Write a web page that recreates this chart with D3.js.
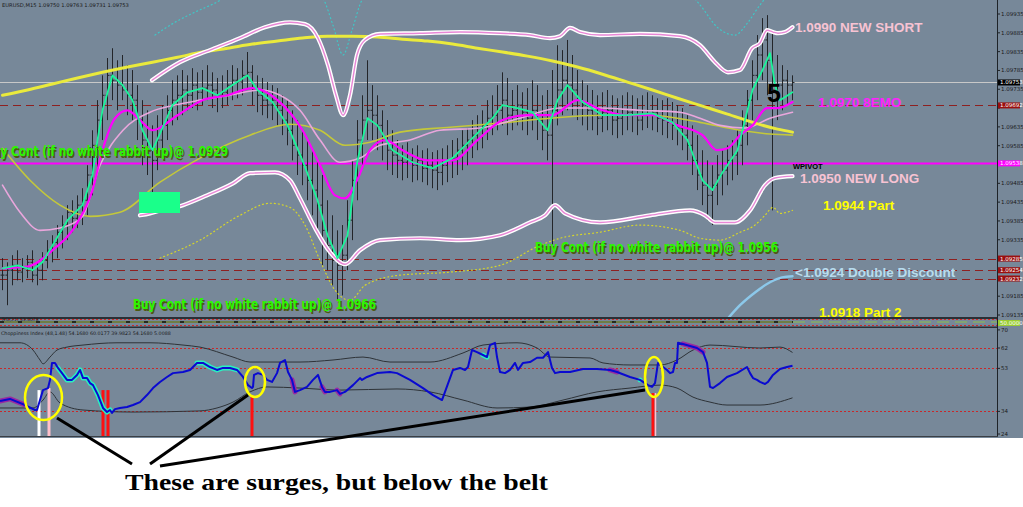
<!DOCTYPE html>
<html><head><meta charset="utf-8">
<script src="https://cdn.jsdelivr.net/npm/d3@7"></script>
<style>body{margin:0;background:#fff}svg{display:block}</style>
</head><body><svg id="c" width="1023" height="507"></svg>
<script>
// ---------- DATA ----------
const symbolHeader = "EURUSD,M15  1.09750 1.09763 1.09731 1.09753";
const chopTitle = "Choppiness Index (48,1.48) 54.1680 60.0177 39.9823 54.1680 5.0088";
const priceTicks = [1.09935,1.09885,1.09835,1.09785,1.09735,1.09685,1.09635,1.09585,1.09535,1.09485,1.09435,1.09385,1.09335,1.09285,1.09235,1.09185,1.09135];
const chopTicks = [70,62,53,34,24];
const chopLevels = [62,53,34];

const high = [
1.09286,1.09275,1.09294,1.09307,1.09286,1.09294,1.09307,1.09275,1.09302,1.09334,
1.09347,1.09374,1.09400,1.09427,1.09440,1.09453,1.09472,1.09533,1.09626,1.09706,
1.09772,1.09818,1.09844,1.09812,1.09826,1.09799,1.09786,1.09746,1.09706,1.09679,
1.09639,1.09666,1.09693,1.09719,1.09759,1.09772,1.09786,1.09772,1.09791,1.09780,
1.09786,1.09799,1.09780,1.09765,1.09772,1.09786,1.09799,1.09791,1.09812,1.09834,
1.09799,1.09772,1.09765,1.09754,1.09746,1.09738,1.09719,1.09706,1.09679,1.09653,
1.09626,1.09600,1.09573,1.09546,1.09507,1.09440,1.09400,1.09360,1.09374,1.09440,
1.09546,1.09653,1.09719,1.09812,1.09746,1.09719,1.09679,1.09653,1.09626,1.09600,
1.09586,1.09594,1.09578,1.09586,1.09573,1.09578,1.09568,1.09573,1.09578,1.09586,
1.09600,1.09605,1.09626,1.09632,1.09653,1.09666,1.09679,1.09706,1.09719,1.09746,
1.09780,1.09765,1.09733,1.09746,1.09727,1.09738,1.09759,1.09746,1.09719,1.09733,
1.09786,1.09852,1.09839,1.09866,1.09826,1.09786,1.09759,1.09746,1.09733,1.09719,
1.09727,1.09733,1.09719,1.09711,1.09719,1.09727,1.09719,1.09711,1.09719,1.09727,
1.09719,1.09711,1.09706,1.09711,1.09701,1.09693,1.09685,1.09666,1.09639,1.09613,
1.09573,1.09546,1.09533,1.09560,1.09573,1.09586,1.09600,1.09626,1.09679,1.09733,
1.09812,1.09879,1.09924,1.09932,1.09892,1.09826,1.09799,1.09786,1.09772];
const low = [
1.09201,1.09161,1.09214,1.09227,1.09222,1.09233,1.09222,1.09214,1.09227,1.09259,
1.09275,1.09286,1.09312,1.09334,1.09355,1.09366,1.09374,1.09400,1.09453,1.09520,
1.09600,1.09653,1.09706,1.09679,1.09706,1.09666,1.09653,1.09600,1.09533,1.09507,
1.09413,1.09520,1.09560,1.09600,1.09639,1.09653,1.09666,1.09679,1.09685,1.09679,
1.09693,1.09706,1.09685,1.09674,1.09685,1.09693,1.09706,1.09711,1.09719,1.09733,
1.09693,1.09674,1.09666,1.09658,1.09653,1.09639,1.09613,1.09586,1.09546,1.09507,
1.09480,1.09440,1.09400,1.09347,1.09267,1.09254,1.09214,1.09174,1.09187,1.09254,
1.09334,1.09440,1.09533,1.09600,1.09600,1.09573,1.09546,1.09520,1.09507,1.09499,
1.09493,1.09499,1.09488,1.09493,1.09488,1.09480,1.09472,1.09467,1.09480,1.09488,
1.09499,1.09507,1.09520,1.09533,1.09552,1.09573,1.09578,1.09600,1.09613,1.09626,
1.09639,1.09613,1.09626,1.09639,1.09626,1.09613,1.09626,1.09600,1.09573,1.09546,
1.09320,1.09639,1.09666,1.09679,1.09666,1.09653,1.09639,1.09626,1.09626,1.09613,
1.09621,1.09626,1.09613,1.09605,1.09613,1.09626,1.09621,1.09613,1.09626,1.09632,
1.09626,1.09621,1.09613,1.09605,1.09600,1.09586,1.09573,1.09546,1.09507,1.09467,
1.09427,1.09387,1.09374,1.09427,1.09453,1.09480,1.09493,1.09507,1.09533,1.09586,
1.09653,1.09706,1.09759,1.09719,1.09413,1.09653,1.09679,1.09693,1.09706];
const close = [
1.09241,1.09254,1.09267,1.09249,1.09259,1.09275,1.09241,1.09254,1.09280,1.09307,
1.09328,1.09355,1.09374,1.09408,1.09392,1.09427,1.09440,1.09507,1.09586,1.09653,
1.09719,1.09772,1.09759,1.09746,1.09733,1.09719,1.09706,1.09653,1.09600,1.09573,
1.09546,1.09600,1.09639,1.09679,1.09706,1.09719,1.09733,1.09719,1.09746,1.09727,
1.09738,1.09746,1.09733,1.09719,1.09727,1.09746,1.09759,1.09754,1.09772,1.09780,
1.09733,1.09719,1.09706,1.09693,1.09706,1.09679,1.09653,1.09626,1.09586,1.09560,
1.09533,1.09493,1.09467,1.09427,1.09360,1.09320,1.09280,1.09267,1.09294,1.09387,
1.09493,1.09600,1.09653,1.09679,1.09666,1.09639,1.09600,1.09573,1.09560,1.09546,
1.09541,1.09546,1.09533,1.09546,1.09525,1.09533,1.09520,1.09514,1.09533,1.09546,
1.09552,1.09573,1.09586,1.09600,1.09613,1.09632,1.09639,1.09658,1.09666,1.09679,
1.09706,1.09666,1.09679,1.09693,1.09674,1.09658,1.09679,1.09653,1.09626,1.09613,
1.09679,1.09733,1.09759,1.09746,1.09733,1.09706,1.09693,1.09679,1.09666,1.09658,
1.09674,1.09679,1.09653,1.09658,1.09666,1.09674,1.09666,1.09653,1.09666,1.09679,
1.09674,1.09658,1.09653,1.09647,1.09639,1.09632,1.09613,1.09586,1.09546,1.09507,
1.09480,1.09453,1.09480,1.09507,1.09520,1.09546,1.09560,1.09586,1.09639,1.09706,
1.09772,1.09826,1.09866,1.09812,1.09733,1.09746,1.09759,1.09746,1.09753];

const smaIdx=[0,5,10,15,20,25,30,35,40,45,50,55,60,65,70,75,80,85,90,95,100,105,110,115,120,125,130,135,140,145,150,155,158];
const smaVal=[1.09719,1.09733,1.09749,1.09765,1.09780,1.09794,1.09807,1.09820,1.09834,1.09844,1.09855,1.09863,1.09871,1.09876,1.09876,1.09874,1.09868,1.09863,1.09855,1.09844,1.09834,1.09823,1.09810,1.09794,1.09775,1.09754,1.09733,1.09711,1.09690,1.09669,1.09647,1.09629,1.09621];

const upIdx=[29.9,35.5,41.5,47.5,52.5,57.5,60.5,63.1,65.1,66.7,68.1,69.5,70.9,72.5,75.5,83.5,91.5,99.5,105.5,109.5,111.5,113.5,115.5,119.5,127.5,135.5,139.5,142.5,145.1,147.5,149.9,151.5,152.9,154.1,155.1,156.5,158];
const upVal=[1.09759,1.09807,1.09839,1.09871,1.09900,1.09913,1.09908,1.09871,1.09799,1.09719,1.09666,1.09719,1.09826,1.09866,1.09882,1.09884,1.09887,1.09884,1.09879,1.09871,1.09876,1.09898,1.09887,1.09879,1.09882,1.09876,1.09852,1.09807,1.09780,1.09786,1.09844,1.09858,1.09892,1.09887,1.09884,1.09887,1.09900];

const loIdx=[27.5,29.5,31.5,36.1,40.9,46.1,49.5,54.5,57.5,59.5,62.5,65.5,68.5,71.5,75.5,83.5,91.5,99.5,105.5,108.5,110.5,112.5,119.5,129.5,137.5,140.5,142.5,146.5,149.5,152.5,154.5,158];
const loVal=[1.09400,1.09405,1.09413,1.09427,1.09453,1.09485,1.09512,1.09514,1.09493,1.09445,1.09366,1.09302,1.09270,1.09307,1.09334,1.09339,1.09334,1.09347,1.09381,1.09400,1.09427,1.09405,1.09381,1.09400,1.09413,1.09400,1.09381,1.09381,1.09413,1.09480,1.09499,1.09504];

const cyIdx=[30.5,34.5,38.5,42.5,45.5,59.5,63.9,66.1,68.1,69.9,71.9,75.5,135.5,139.5,143.1,146.5,149.1,151.5,154.5,158];
const cyVal=[1.09879,1.09913,1.09940,1.09964,1.09985,1.10012,1.09980,1.09905,1.09826,1.09892,1.09972,1.10012,1.10012,1.09959,1.09898,1.09879,1.09913,1.09959,1.09999,1.09999];

const ydIdx=[31.5,39.5,47.5,53.5,57.5,60.5,63.5,66.5,69.5,72.5,79.5,89.5,99.5,107.5,111.5,119.5,127.5,135.5,139.5,143.5,147.5,150.5,152.5,154.1,155.5,158];
const ydVal=[1.09286,1.09334,1.09400,1.09432,1.09421,1.09374,1.09280,1.09201,1.09174,1.09214,1.09241,1.09249,1.09267,1.09320,1.09339,1.09355,1.09374,1.09360,1.09339,1.09334,1.09355,1.09374,1.09400,1.09421,1.09405,1.09413];

const lbIdx=[145.1,147.5,150.5,153.5,155.9,158];
const lbVal=[1.09126,1.09161,1.09195,1.09222,1.09235,1.09238];

const emaIdx=[0,5,10,15,18,20,22.5,25,27.5,30,35,40,45,50,55,60,63.5,66.5,68.5,70.9,73.5,76.5,80,85,90,95,100,105,110,115,120,125,130,135,140,142.9,145,147.5,150,152.9,155,158];
const emaVal=[1.09259,1.09264,1.09307,1.09381,1.09467,1.09573,1.09658,1.09679,1.09653,1.09626,1.09666,1.09706,1.09719,1.09738,1.09706,1.09626,1.09533,1.09453,1.09445,1.09493,1.09573,1.09600,1.09573,1.09546,1.09546,1.09600,1.09653,1.09666,1.09666,1.09706,1.09679,1.09666,1.09666,1.09639,1.09613,1.09573,1.09578,1.09613,1.09639,1.09685,1.09685,1.09701];

const grIdx=[0,3,6,8,10,13,16,18,19,20,22,24,26,28,30,32,34,37,40,43,46,49,51,54,57,60,63,65,67,69,71,73,75,78,82,86,90,94,98,100,103,106,109,111,113,116,120,125,130,134,137,140,142,144,147,150,152,153.5,154.5,155.5,158];
const grVal=[1.09259,1.09267,1.09254,1.09275,1.09320,1.09387,1.09427,1.09507,1.09600,1.09679,1.09772,1.09746,1.09706,1.09626,1.09573,1.09632,1.09693,1.09727,1.09738,1.09719,1.09746,1.09772,1.09733,1.09701,1.09639,1.09546,1.09440,1.09347,1.09286,1.09347,1.09546,1.09658,1.09639,1.09573,1.09541,1.09525,1.09552,1.09605,1.09658,1.09693,1.09685,1.09674,1.09626,1.09706,1.09746,1.09701,1.09666,1.09666,1.09671,1.09647,1.09600,1.09493,1.09467,1.09514,1.09573,1.09733,1.09786,1.09831,1.09746,1.09706,1.09727];

const pkIdx=[0,3.5,7.5,11.5,15.9,19.5,24.1,29.5,34.5,39.5,45.5,51.5,55.5,59.5,63.5,67.5,71.5,75.5,81.5,87.5,95.5,103.5,111.5,119.5,127.5,135.5,139.5,143.5,148.5,153.5,158];
const pkVal=[1.09480,1.09408,1.09360,1.09366,1.09395,1.09533,1.09626,1.09674,1.09693,1.09706,1.09719,1.09733,1.09719,1.09679,1.09600,1.09541,1.09552,1.09586,1.09600,1.09626,1.09632,1.09658,1.09685,1.09685,1.09679,1.09674,1.09658,1.09639,1.09632,1.09658,1.09674];

const olIdx=[0,5.5,11.5,17.5,23.5,31.5,39.5,49.5,57.5,63.5,68.5,73.5,79.5,89.5,99.5,109.5,119.5,129.5,139.5,147.5,153.5,158];
const olVal=[1.09578,1.09493,1.09427,1.09397,1.09408,1.09488,1.09552,1.09613,1.09642,1.09626,1.09586,1.09594,1.09621,1.09634,1.09645,1.09658,1.09666,1.09666,1.09647,1.09626,1.09616,1.09613];

const levelLines = [
  {p:1.09753, color:"#c8c8c8", dash:null, w:1, box:"#000000"},
  {p:1.09692, color:"#8e2020", dash:"8,5", w:1, box:"#9a0f0f"},
  {p:1.09538, color:"#ff00ff", dash:null, w:2, box:"#ff00ff"},
  {p:1.09285, color:"#8e2020", dash:"8,5", w:1, box:"#9a0f0f"},
  {p:1.09254, color:"#8e2020", dash:"8,5", w:1, box:"#9a0f0f"},
  {p:1.09232, color:"#8e2020", dash:"8,5", w:1, box:"#9a0f0f"}
];

const chopPts=[[-0.5,38.6],[1.5,39.5],[4.5,36.8],[6.5,34.6],[6.9,34.6],[7.5,39.0],[8.1,43.4],[9.1,44.3],[9.5,47.9],[9.9,55.4],[10.5,55.4],[11.1,53.2],[11.9,50.9],[12.9,47.9],[13.9,47.9],[14.9,50.1],[15.5,52.3],[16.1,48.7],[16.9,48.7],[17.5,46.5],[18.1,45.6],[19.1,41.2],[20.1,35.5],[20.9,33.7],[21.5,34.6],[21.9,33.3],[22.5,35.0],[23.5,35.5],[24.9,35.9],[26.1,36.8],[27.5,38.1],[28.9,41.2],[30.1,44.3],[31.5,47.0],[32.9,49.2],[34.1,50.9],[36.1,51.4],[37.5,52.3],[38.9,55.4],[40.1,55.4],[41.5,53.6],[42.9,52.3],[44.1,53.2],[45.5,53.2],[46.9,52.3],[48.1,49.2],[49.1,45.6],[49.9,44.3],[50.1,44.8],[50.3,50.1],[51.1,50.9],[52.1,50.1],[52.9,47.9],[53.9,47.0],[54.9,50.9],[55.5,55.4],[56.5,56.7],[57.1,51.4],[57.9,47.9],[58.5,42.6],[59.5,43.4],[60.9,44.8],[62.1,47.9],[63.1,50.1],[63.9,44.8],[64.5,42.6],[65.5,42.6],[66.9,43.4],[67.5,41.7],[68.5,42.6],[70.1,45.6],[71.5,48.7],[71.9,47.9],[72.9,49.2],[74.9,50.9],[77.5,51.4],[78.9,50.9],[81.5,47.9],[84.1,44.3],[86.1,41.2],[87.9,39.0],[88.5,42.6],[90.1,52.3],[91.5,53.2],[92.5,52.3],[93.1,53.6],[93.9,61.1],[94.9,60.2],[96.1,58.9],[96.9,58.0],[97.5,63.3],[98.5,64.3],[98.9,58.0],[99.5,51.4],[100.5,50.9],[101.5,52.3],[102.5,55.4],[103.1,52.3],[104.1,55.4],[105.5,55.8],[106.9,57.7],[108.1,57.7],[109.1,60.2],[109.9,53.2],[110.5,50.9],[111.5,51.4],[113.5,51.4],[116.1,52.7],[118.9,52.7],[121.5,52.3],[122.9,51.4],[125.5,49.2],[127.5,47.9],[129.1,45.6],[129.9,44.8],[130.5,46.5],[131.1,55.4],[132.1,53.6],[132.9,52.3],[133.5,50.9],[134.1,51.4],[134.5,55.4],[134.9,55.4],[135.1,64.3],[136.1,63.8],[137.5,62.9],[138.9,62.0],[140.1,60.2],[140.9,55.4],[141.5,44.8],[142.1,44.3],[143.5,46.5],[144.9,49.2],[146.9,50.9],[148.9,53.6],[149.5,50.9],[150.1,48.7],[150.9,47.9],[151.5,47.0],[152.5,46.1],[153.1,47.0],[154.1,50.1],[155.5,52.7],[156.9,53.6],[158,54.17]];
const chopUp=[[-0.5,64.3],[3.5,64.3],[6.1,61.1],[7.5,56.7],[8.1,55.0],[9.5,58.0],[10.9,61.1],[12.9,62.4],[16.1,63.3],[22.9,64.3],[29.5,64.3],[36.1,63.3],[39.5,62.4],[46.1,58.0],[49.5,55.8],[52.9,55.8],[59.5,55.8],[66.1,56.7],[72.1,58.0],[77.5,55.8],[85.5,55.8],[92.1,59.8],[96.1,63.3],[102.9,64.3],[106.9,62.0],[109.5,58.0],[117.5,57.6],[120.1,55.4],[125.5,54.5],[131.5,54.5],[134.9,56.7],[138.1,61.1],[141.5,63.3],[151.5,62.0],[155.5,62.4],[158,60.02]];
const chopLo=[[-0.5,35.5],[6.1,35.5],[8.1,39.0],[9.5,42.6],[11.5,37.7],[16.1,34.6],[26.1,33.7],[39.5,34.2],[42.9,35.5],[46.1,38.1],[49.5,42.6],[52.9,44.8],[59.5,44.3],[67.5,43.4],[78.9,43.9],[85.5,42.6],[92.1,39.0],[98.9,35.5],[105.5,35.9],[112.1,39.0],[118.9,42.6],[125.5,44.3],[131.5,45.6],[134.9,44.3],[138.1,40.3],[141.5,38.1],[144.9,36.8],[151.5,36.8],[158,39.98]];
const glowCyan=[[11.1,21.5],[38.1,47.5],[95.5,96.9],[126.9,128.1]];
const glowPurple=[[-0.5,4.9],[57.5,58.9],[63.5,64.5],[66.9,67.9],[121.5,122.9],[135.5,140.1]];
const surgeIdx=[7.3,9.3,20.1,21.1,49.9,130.1];
const surgeTop=[43.4,44.3,43.4,43.4,41.2,42.1];
const surgeColor=["#ffffff","#ffc0cb","#ff1010","#ff1010","#ff1010","#ff1010"];
const circleCenters=[[8.2,40.1],[50.5,47.0],[130.3,49.2]];

const priceNotes=[
  {t:"1.0990 NEW SHORT", c:"#f7c3d3"},
  {t:"1.0970 8EMO", c:"#ff22ff"},
  {t:"1.0950 NEW LONG", c:"#f7c3d3"},
  {t:"1.0944 Part", c:"#ffff00"},
  {t:"<1.0924 Double Discount", c:"#b7dcee"},
  {t:"1.0918 Part 2", c:"#ffff00"}
];
const buyNotes=["Buy Cont (if no white rabbit up)@ 1.0929","Buy Cont (if no white rabbit up)@ 1.0966","Buy Cont (if no white rabbit up)@ 1.0956"];
const caption="These are surges, but below the belt";

// ---------- LAYOUT ----------
const BG="#778899", AX=997, mainBot=317, indTop=328, indBot=437;
const svg=d3.select("#c");
const x=d3.scaleLinear().domain([0,158]).range([2.5,792.5]);
const y=d3.scaleLinear().domain([1.09135,1.09935]).range([315,14]);
const yi=d3.scaleLinear().domain([24,62]).range([434,348]);

svg.append("rect").attr("width",1023).attr("height",507).attr("fill","#fff");
svg.append("rect").attr("width",1023).attr("height",indBot+1).attr("fill",BG);
const defs=svg.append("defs");
defs.append("clipPath").attr("id","cm").append("rect").attr("x",0).attr("y",0).attr("width",AX).attr("height",mainBot);
defs.append("clipPath").attr("id","ci").append("rect").attr("x",0).attr("y",indTop).attr("width",AX).attr("height",indBot-indTop);

const main=svg.append("g").attr("clip-path","url(#cm)");
const smooth=d3.line().x(d=>x(d[0])).y(d=>y(d[1])).curve(d3.curveMonotoneX);
const straight=d3.line().x(d=>x(d[0])).y(d=>y(d[1]));

levelLines.forEach(l=>{
  main.append("line").attr("x1",0).attr("x2",AX).attr("y1",Math.round(y(l.p))+0.5).attr("y2",Math.round(y(l.p))+0.5)
    .attr("stroke",l.color).attr("stroke-width",l.w).attr("stroke-dasharray",l.dash);
});

const bars=main.append("g").attr("stroke","#232529").attr("stroke-width",1).attr("fill","none");
high.forEach((h,i)=>{
  const xi=x(i), o=i>0?close[i-1]:close[i];
  bars.append("path").attr("d",`M${xi},${y(h)}V${y(low[i])}M${xi-2},${y(o)}H${xi}M${xi},${y(close[i])}H${xi+2}`);
});

function plot(idx,val,opts,gen){
  return main.append("path").datum(d3.zip(idx,val)).attr("d",gen||smooth).attr("fill","none")
    .attr("stroke",opts.c).attr("stroke-width",opts.w).attr("stroke-dasharray",opts.dash||null)
    .attr("stroke-linejoin","round").attr("stroke-linecap","round");
}
plot(cyIdx,cyVal,{c:"#3fc7c7",w:1.2,dash:"1,3"});
plot(ydIdx,ydVal,{c:"#d6d62a",w:1.2,dash:"1,3"});
plot(olIdx,olVal,{c:"#c4c83a",w:1.6});
plot(pkIdx,pkVal,{c:"#e9a6dc",w:1.6});
plot(smaIdx,smaVal,{c:"#eaea3c",w:3});
plot(lbIdx,lbVal,{c:"#8cc8ea",w:2.5});
plot(upIdx,upVal,{c:"#ffffff",w:4.2});
plot(upIdx,upVal,{c:"#e887d6",w:1.4});
plot(loIdx,loVal,{c:"#ffffff",w:4.2});
plot(loIdx,loVal,{c:"#e887d6",w:1.4});
plot(emaIdx,emaVal,{c:"#ff00ff",w:2.2});
plot(grIdx,grVal,{c:"#19f59a",w:1.8},straight);

main.append("rect").attr("x",139).attr("y",192).attr("width",41).attr("height",21).attr("fill","#1aff8a");

const buyPos=[[-15,156],[133,309],[535,252]];
buyNotes.forEach((t,i)=>{
  [[1.5,1.5,"#4d5a10"],[0,0,"#2cf500"]].forEach(([dx,dy,c])=>{
    main.append("text").attr("x",buyPos[i][0]+dx).attr("y",buyPos[i][1]+dy).text(t)
      .attr("font-family","'Liberation Sans Narrow','DejaVu Sans Condensed','Liberation Sans',sans-serif")
      .attr("font-weight","bold").attr("font-size",14).attr("fill",c)
      .attr("textLength",243).attr("lengthAdjust","spacingAndGlyphs");
  });
});

const notePos=[[795,32],[818,107],[800,183],[823,210],[795,277],[819,317]];
priceNotes.forEach((n,i)=>{
  main.append("text").attr("x",notePos[i][0]).attr("y",notePos[i][1]).text(n.t)
    .attr("font-family","'Liberation Sans',Arial,sans-serif").attr("font-weight","bold")
    .attr("font-size",13.5).attr("fill",n.c);
});
main.append("text").attr("x",767).attr("y",102).text("5").attr("font-family","'Liberation Sans',Arial,sans-serif")
  .attr("font-weight","bold").attr("font-size",25).attr("fill","#000");
main.append("text").attr("x",793).attr("y",169).text("WPIVOT").attr("font-family","'Liberation Sans',Arial,sans-serif")
  .attr("font-weight","bold").attr("font-size",7.5).attr("fill","#000");
main.append("text").attr("x",2).attr("y",7).text(symbolHeader).attr("font-family","'DejaVu Sans',sans-serif")
  .attr("font-size",5.2).attr("fill","#1a1a1a");

svg.append("rect").attr("x",0).attr("y",mainBot).attr("width",AX).attr("height",2).attr("fill","#2a2f36");
svg.append("line").attr("x1",0).attr("x2",AX).attr("y1",319.5).attr("y2",319.5).attr("stroke","#cc2a2a").attr("stroke-dasharray","2,2");
svg.append("line").attr("x1",0).attr("x2",793).attr("y1",322).attr("y2",322).attr("stroke","#6d7a2a").attr("stroke-width",1.5);
svg.append("line").attr("x1",0).attr("x2",793).attr("y1",322).attr("y2",322).attr("stroke","#111").attr("stroke-width",1.5).attr("stroke-dasharray","4,14");
svg.append("line").attr("x1",793).attr("x2",AX).attr("y1",322).attr("y2",322).attr("stroke","#8fbf4a").attr("stroke-width",1).attr("stroke-dasharray","12,6");
svg.append("line").attr("x1",0).attr("x2",AX).attr("y1",325.5).attr("y2",325.5).attr("stroke","#cc2a2a").attr("stroke-dasharray","2,2");
svg.append("rect").attr("x",0).attr("y",326.5).attr("width",AX).attr("height",1.5).attr("fill","#2a2f36");
svg.append("text").attr("x",2).attr("y",321).text("RSI(21) 53.0078").attr("font-family","'DejaVu Sans',sans-serif").attr("font-size",4.5).attr("fill","#1a1a1a");

const ind=svg.append("g").attr("clip-path","url(#ci)");
chopLevels.forEach(v=>{
  ind.append("line").attr("x1",0).attr("x2",AX).attr("y1",Math.round(yi(v))+0.5).attr("y2",Math.round(yi(v))+0.5)
    .attr("stroke","#c8282a").attr("stroke-dasharray","2,2");
});
const il=d3.line().x(d=>x(d[0])).y(d=>yi(d[1])).curve(d3.curveMonotoneX);
const ilS=d3.line().x(d=>x(d[0])).y(d=>yi(d[1]));
ind.append("path").datum(chopUp).attr("d",il).attr("fill","none").attr("stroke","#2e3338").attr("stroke-width",1);
ind.append("path").datum(chopLo).attr("d",il).attr("fill","none").attr("stroke","#2e3338").attr("stroke-width",1);
surgeIdx.forEach((s,i)=>{
  ind.append("line").attr("x1",x(s)).attr("x2",x(s)).attr("y1",yi(surgeTop[i])).attr("y2",indBot)
    .attr("stroke",surgeColor[i]).attr("stroke-width",3);
});
ind.append("line").attr("x1",x(130.1)+2.5).attr("x2",x(130.1)+2.5).attr("y1",yi(42.1)).attr("y2",indBot).attr("stroke","#ffc0cb").attr("stroke-width",1.5);
glowCyan.forEach(([a,b])=>{
  ind.append("path").datum(chopPts.filter(p=>p[0]>=a&&p[0]<=b)).attr("d",ilS).attr("fill","none")
    .attr("stroke","#2af0c0").attr("stroke-width",5).attr("stroke-linejoin","round").attr("stroke-linecap","round");
});
glowPurple.forEach(([a,b])=>{
  ind.append("path").datum(chopPts.filter(p=>p[0]>=a&&p[0]<=b)).attr("d",ilS).attr("fill","none")
    .attr("stroke","#9a2aa0").attr("stroke-width",5).attr("stroke-linejoin","round").attr("stroke-linecap","round");
});
ind.append("path").datum(chopPts).attr("d",ilS).attr("fill","none").attr("stroke","#0a0ad0").attr("stroke-width",2).attr("stroke-linejoin","round");
svg.append("text").attr("x",1).attr("y",335).text(chopTitle).attr("font-family","'DejaVu Sans',sans-serif").attr("font-size",4.8).attr("fill","#1a1a1a");

svg.append("line").attr("x1",AX+0.5).attr("x2",AX+0.5).attr("y1",0).attr("y2",indBot).attr("stroke","#1e2328");
const axf="'DejaVu Sans',sans-serif";
priceTicks.forEach(p=>{
  const yy=y(p);
  svg.append("line").attr("x1",AX).attr("x2",AX+3).attr("y1",yy).attr("y2",yy).attr("stroke","#1e2328");
  if(levelLines.some(l=>Math.abs(y(l.p)-yy)<5)) return;
  svg.append("text").attr("x",AX+4).attr("y",yy+2).text(p.toFixed(5)).attr("font-family",axf).attr("font-size",5.5).attr("fill","#1a1a1a");
});
levelLines.forEach(l=>{
  const yy=y(l.p);
  svg.append("rect").attr("x",AX+1).attr("y",yy-3).attr("width",22).attr("height",6).attr("fill",l.box);
  svg.append("text").attr("x",AX+3).attr("y",yy+2).text(l.p.toFixed(5)).attr("font-family",axf).attr("font-size",5.5).attr("fill","#fff");
});
svg.append("rect").attr("x",AX+1).attr("y",320).attr("width",22).attr("height",6).attr("fill","#9acd32");
svg.append("text").attr("x",AX+3).attr("y",325).text("50.0000").attr("font-family",axf).attr("font-size",5.5).attr("fill","#fff");
chopTicks.forEach(v=>{
  const yy=yi(v);
  svg.append("line").attr("x1",AX).attr("x2",AX+3).attr("y1",yy).attr("y2",yy).attr("stroke","#1e2328");
  svg.append("text").attr("x",AX+4).attr("y",yy+2).text(v).attr("font-family",axf).attr("font-size",5.5).attr("fill","#1a1a1a");
});
svg.append("rect").attr("x",0).attr("y",indBot-1).attr("width",AX+1).attr("height",1).attr("fill","#3a3f45");

const rr=[[18.5,22.5],[10,15],[9,20]];
circleCenters.forEach((c,i)=>{
  svg.append("ellipse").attr("cx",x(c[0])).attr("cy",yi(c[1])).attr("rx",rr[i][0]).attr("ry",rr[i][1])
    .attr("fill","none").attr("stroke","#ffff00").attr("stroke-width",2.5);
});
const ptr=[[[57,418],[132,464]],[[248,395],[150,464]],[[645,390],[160,466]]];
ptr.forEach(p=>{
  svg.append("line").attr("x1",p[0][0]).attr("y1",p[0][1]).attr("x2",p[1][0]).attr("y2",p[1][1])
    .attr("stroke","#000").attr("stroke-width",3);
});
svg.append("text").attr("x",125).attr("y",490).text(caption).attr("font-family","'Liberation Serif','DejaVu Serif',serif")
  .attr("font-weight","bold").attr("font-size",23).attr("fill","#000").attr("textLength",423).attr("lengthAdjust","spacingAndGlyphs");
</script></body></html>
